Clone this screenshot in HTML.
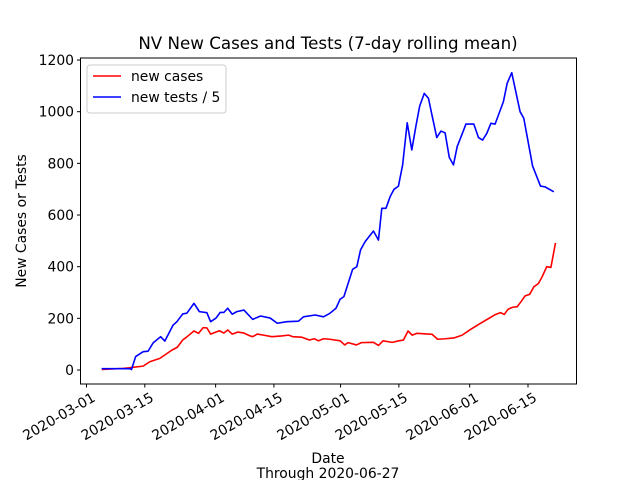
<!DOCTYPE html>
<html><head><meta charset="utf-8"><style>
body{margin:0;background:#fff}
svg text{font-family:"DejaVu Sans","Liberation Sans",sans-serif;fill:#000}
</style></head><body>
<svg id="chart" width="640" height="480" viewBox="0 0 640 480" xmlns="http://www.w3.org/2000/svg">
<rect width="640" height="480" fill="#fff"/>
<text x="328" y="49" font-size="16.7" text-anchor="middle">NV New Cases and Tests (7-day rolling mean)</text>
<text transform="translate(26,221) rotate(-90)" font-size="13.9" text-anchor="middle">New Cases or Tests</text>
<text x="328" y="463" font-size="13.9" text-anchor="middle">Date</text>
<text x="328" y="478" font-size="13.9" text-anchor="middle">Through 2020-06-27</text>
<g id="axes"></g>
<g id="series"></g>
<rect x="80.5" y="58" width="496" height="326" fill="none" stroke="#000" stroke-width="1"/>
<g>
<rect x="87" y="65" width="139" height="48" rx="3" fill="#fff" fill-opacity="0.8" stroke="#ccc"/>
<line x1="93" y1="76" x2="121" y2="76" stroke="red" stroke-width="1.6"/>
<text x="131" y="81" font-size="13.9">new cases</text>
<line x1="93" y1="97" x2="121" y2="97" stroke="blue" stroke-width="1.6"/>
<text x="131" y="102" font-size="13.9">new tests / 5</text>
</g>
</svg>
<script>
// days since 2020-03-01
const testDays=[3.65,10.4,10.8,11.8,13.6,14.8,16,17.8,18.8,20.8,21.7,23.1,24.1,25.8,27.1,28.9,29.8,31.1,32.1,33,33.9,35,36.1,37.8,39.9,41.8,44.1,45.8,48.1,50.9,52.1,54.9,56.9,58.4,59.9,60.9,61.8,63.9,64.9,65.8,66.9,68.9,70.1,70.9,71.9,72.9,73.8,74.9,75.9,77,78.1,79.1,80,81.1,82.1,83,84.1,85.1,86.1,87.1,88.1,89,90.1,91.1,93,94.1,95.1,96.1,97.1,98.1,100.1,101,102.1,104.1,105,107.1,109,110.1,112.2];
const testValues=[5,5,2,52,71,73,105,129,112,174,187,217,220,258,226,222,187,201,223,223,239,216,226,232,196,209,201,181,187,189,206,213,206,219,239,274,284,390,400,465,497,538,503,626,626,671,699,712,794,957,852,945,1022,1071,1052,983,900,925,918,823,794,865,910,952,952,900,890,916,955,952,1039,1110,1151,1000,974,790,712,709,690];
const caseDays=[3.65,8.8,10.9,13.6,15.2,17.6,18.8,20.5,21.8,23.1,24,25.8,26.9,28,28.9,29.8,31.9,33,33.9,35,36.4,37.8,39.1,39.9,41,42.5,44.5,46.9,48.5,49.5,51.7,53.5,54.7,55.7,56.9,58.4,60.9,62,62.8,64.8,66,68.9,70.1,71.2,73.4,75,76.1,77.2,78.2,79.3,83,84.3,86.2,88.2,90.2,92.2,94.3,96.2,98.2,99.4,100.3,101.2,102.3,103.4,104.3,105.3,106.4,107.4,108.5,109.4,110.5,111.5,112.6];
const caseValues=[2,6,10,15,32,45,58,77,88,116,127,151,142,164,163,139,152,143,155,139,147,143,133,129,139,135,129,132,135,129,127,116,121,113,121,119,113,97,106,97,106,107,95,113,107,113,116,151,135,142,138,119,121,124,135,157,178,196,215,222,215,235,243,245,264,287,293,322,335,361,400,397,492];
const yTicks=[0,200,400,600,800,1000,1200];
const xTickDays=[0,14,31,45,61,75,92,106];
const xTickLabels=["2020-03-01","2020-03-15","2020-04-01","2020-04-15","2020-05-01","2020-05-15","2020-06-01","2020-06-15"];

const NS="http://www.w3.org/2000/svg";
const xS=d=>86.5+d*4.165;
const yS=v=>370-v*0.2583;
const axes=document.getElementById('axes');
const series=document.getElementById('series');
function mk(tag,attrs,parent){const e=document.createElementNS(NS,tag);for(const k in attrs)e.setAttribute(k,attrs[k]);parent.appendChild(e);return e;}
yTicks.forEach(v=>{
  const y=yS(v);
  const t=mk('line',{x1:77,x2:80.5,y1:y,y2:y,stroke:'#000'},axes);
  
  
  const l=mk('text',{x:74,y:y+5,'font-size':13.9,'text-anchor':'end'},axes);
  l.textContent=v;
  
  
});
xTickDays.forEach((d,i)=>{
  const x=xS(d);
  const t=mk('line',{x1:x,x2:x,y1:384,y2:387.5,stroke:'#000'},axes);
  
  
  const l=mk('text',{transform:`translate(${x+5},${392}) rotate(-30)`,'font-size':13.9,'text-anchor':'end','dominant-baseline':'hanging'},axes);
  l.textContent=xTickLabels[i];
  
  
});
function line(days,vals,color,name){
  const p=mk('polyline',{points:days.map((d,i)=>xS(d)+','+yS(vals[i])).join(' '),fill:'none',stroke:color,'stroke-width':1.6,'stroke-linejoin':'round'},series);
  
  
}
line(caseDays,caseValues,'red','new-cases-line');
line(testDays,testValues,'blue','new-tests-line');
</script>
</body></html>
